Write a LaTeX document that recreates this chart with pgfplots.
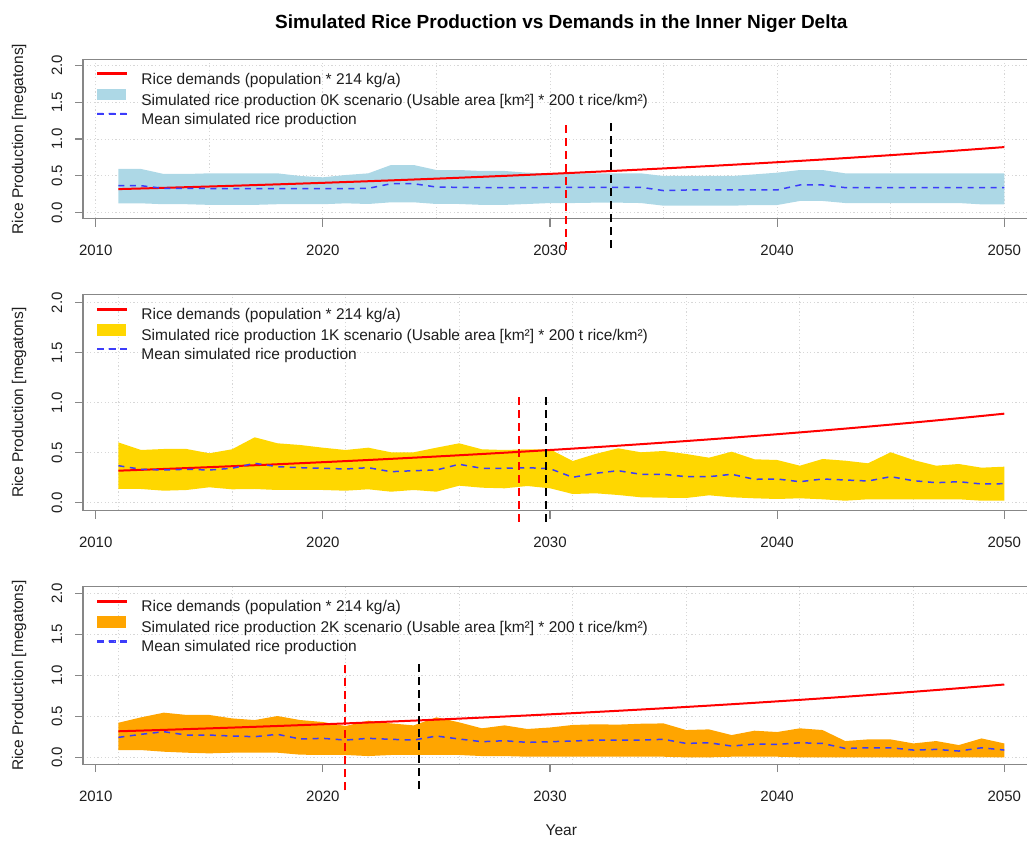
\documentclass[border=0pt]{standalone}
\usepackage{fontspec}
\setmainfont{Liberation Sans}
\usepackage{pgfplots}
\usepackage{pgfplotstable}
\pgfplotsset{compat=1.18}
\usepgfplotslibrary{fillbetween}

\definecolor{axisgray}{RGB}{135,135,135}
\definecolor{gridgray}{RGB}{215,215,215}
\definecolor{bandblue}{RGB}{173,216,230}
\definecolor{bandgold}{RGB}{255,215,0}
\definecolor{bandorange}{RGB}{255,165,0}
\definecolor{meanblue}{RGB}{60,60,250}
\definecolor{txt}{RGB}{30,30,30}

% rice demand (population * 214 kg/a), megatons
\pgfplotstableread{
year dem
2011 0.3200
2012 0.3285
2013 0.3372
2014 0.3462
2015 0.3554
2016 0.3649
2017 0.3746
2018 0.3845
2019 0.3947
2020 0.4052
2021 0.4160
2022 0.4270
2023 0.4384
2024 0.4501
2025 0.4620
2026 0.4743
2027 0.4869
2028 0.4998
2029 0.5131
2030 0.5268
2031 0.5408
2032 0.5552
2033 0.5699
2034 0.5851
2035 0.6006
2036 0.6166
2037 0.6330
2038 0.6498
2039 0.6671
2040 0.6848
2041 0.7030
2042 0.7217
2043 0.7409
2044 0.7606
2045 0.7808
2046 0.8015
2047 0.8228
2048 0.8447
2049 0.8672
2050 0.8902
}\demand

% 0K scenario: upper, lower and mean simulated production
\pgfplotstableread{
year hi lo mean
2011 0.593 0.127 0.366
2012 0.593 0.127 0.366
2013 0.525 0.115 0.330
2014 0.525 0.115 0.330
2015 0.534 0.106 0.328
2016 0.534 0.106 0.328
2017 0.534 0.106 0.328
2018 0.534 0.115 0.328
2019 0.498 0.115 0.326
2020 0.480 0.115 0.326
2021 0.511 0.127 0.326
2022 0.534 0.118 0.330
2023 0.647 0.141 0.393
2024 0.647 0.141 0.393
2025 0.579 0.118 0.348
2026 0.579 0.118 0.344
2027 0.566 0.106 0.339
2028 0.566 0.106 0.339
2029 0.543 0.118 0.339
2030 0.534 0.131 0.342
2031 0.534 0.131 0.345
2032 0.534 0.136 0.345
2033 0.534 0.136 0.345
2034 0.534 0.131 0.345
2035 0.498 0.095 0.300
2036 0.498 0.095 0.308
2037 0.498 0.095 0.308
2038 0.498 0.095 0.308
2039 0.520 0.104 0.308
2040 0.543 0.104 0.308
2041 0.579 0.159 0.376
2042 0.579 0.159 0.376
2043 0.534 0.131 0.340
2044 0.534 0.131 0.340
2045 0.534 0.131 0.340
2046 0.534 0.131 0.340
2047 0.534 0.131 0.340
2048 0.534 0.131 0.340
2049 0.534 0.113 0.340
2050 0.534 0.113 0.340
}\zeroK

% 1K scenario
\pgfplotstableread{
year hi lo mean
2011 0.603 0.137 0.370
2012 0.527 0.137 0.334
2013 0.537 0.120 0.327
2014 0.537 0.127 0.334
2015 0.494 0.154 0.327
2016 0.534 0.134 0.344
2017 0.654 0.137 0.394
2018 0.594 0.127 0.360
2019 0.577 0.127 0.350
2020 0.550 0.127 0.344
2021 0.527 0.120 0.337
2022 0.550 0.134 0.350
2023 0.504 0.110 0.310
2024 0.504 0.127 0.320
2025 0.550 0.110 0.327
2026 0.594 0.170 0.384
2027 0.534 0.150 0.344
2028 0.527 0.144 0.344
2029 0.534 0.167 0.350
2030 0.534 0.144 0.340
2031 0.417 0.087 0.254
2032 0.487 0.094 0.294
2033 0.544 0.077 0.320
2034 0.504 0.054 0.284
2035 0.517 0.050 0.284
2036 0.487 0.047 0.260
2037 0.450 0.074 0.260
2038 0.510 0.054 0.284
2039 0.434 0.044 0.234
2040 0.427 0.037 0.237
2041 0.370 0.044 0.210
2042 0.437 0.034 0.237
2043 0.420 0.020 0.227
2044 0.394 0.034 0.217
2045 0.504 0.034 0.260
2046 0.427 0.034 0.220
2047 0.370 0.034 0.200
2048 0.387 0.034 0.210
2049 0.350 0.020 0.187
2050 0.360 0.020 0.190
}\oneK

% 2K scenario
\pgfplotstableread{
year hi lo mean
2011 0.424 0.091 0.246
2012 0.490 0.091 0.283
2013 0.547 0.071 0.315
2014 0.519 0.059 0.274
2015 0.519 0.051 0.274
2016 0.477 0.059 0.262
2017 0.457 0.059 0.254
2018 0.506 0.059 0.283
2019 0.457 0.035 0.226
2020 0.433 0.031 0.234
2021 0.384 0.031 0.213
2022 0.449 0.018 0.234
2023 0.416 0.031 0.222
2024 0.392 0.031 0.213
2025 0.490 0.031 0.262
2026 0.429 0.031 0.226
2027 0.356 0.018 0.193
2028 0.392 0.018 0.205
2029 0.348 0.010 0.185
2030 0.366 0.010 0.193
2031 0.397 0.010 0.201
2032 0.405 0.010 0.213
2033 0.401 0.010 0.213
2034 0.412 0.010 0.213
2035 0.416 0.010 0.222
2036 0.335 0.002 0.172
2037 0.343 0.002 0.180
2038 0.274 0.010 0.140
2039 0.327 0.010 0.164
2040 0.311 0.010 0.160
2041 0.356 0.002 0.180
2042 0.335 0.002 0.172
2043 0.201 0.002 0.111
2044 0.221 0.002 0.119
2045 0.221 0.002 0.119
2046 0.172 0.002 0.091
2047 0.201 0.002 0.099
2048 0.152 0.002 0.079
2049 0.233 0.002 0.119
2050 0.172 0.002 0.091
}\twoK

\pgfplotsset{
  panel/.style={
    scale only axis, width=956.7pt,
    xmin=2009.44, xmax=2051.56, ymin=-0.08, ymax=2.08,
    clip=false,
    font=\fontsize{15.5}{18.6}\selectfont,
    xtick={2010,2020,2030,2040,2050},
    xticklabels={2010,2020,2030,2040,2050},
    ytick={0,0.5,1,1.5,2},
    yticklabels={0.0,0.5,1.0,1.5,2.0},
    xtick pos=left, ytick pos=left,
    tick align=outside, major tick length=8pt, minor tick length=0pt,
    tick style={color=axisgray, line width=1.1pt},
    axis line style={color=axisgray, line width=1.1pt},
    ymajorgrids, xminorgrids,
    grid style={color=gridgray, line width=0.9pt, dash pattern=on 1.2pt off 2.4pt},
    minor grid style={color=gridgray, line width=0.9pt, dash pattern=on 1.2pt off 2.4pt},
    xticklabel style={font=\fontsize{15}{18}\selectfont, inner sep=0pt, text=txt},
    xticklabel shift=18.6pt,
    yticklabel style={font=\fontsize{15}{18}\selectfont, rotate=90, anchor=south, inner sep=0pt, text=txt},
    yticklabel shift=12.6pt,
    ylabel={Rice Production [megatons]},
    ylabel style={at={(axis description cs:-0.0669,0.5)}, anchor=center, text=txt},
    legend cell align=left,
    legend style={at={(axis description cs:0,1)}, anchor=north west,
      xshift=14pt, yshift=-10.4pt, draw=none, fill=none,
      inner sep=0pt, outer sep=0pt, row sep=0pt, column sep=0pt,
      font=\fontsize{15.5}{18.6}\selectfont, text=txt,
      nodes={inner sep=0pt, text height=14.5pt, text depth=4.5pt}},
  },
  % legend keys drawn as filled shapes
  redlegend/.style={legend image code/.code={%
    \fill[red] (0pt,4.6pt) rectangle (29pt,6.6pt); \path (44pt,0pt);}},
  dashlegend/.style={legend image code/.code={%
    \fill[meanblue] (0pt,4.85pt) rectangle (6pt,6.35pt)
      (11.5pt,4.85pt) rectangle (17.5pt,6.35pt)
      (23pt,4.85pt) rectangle (29pt,6.35pt);
    \path (44pt,0pt);}},
  boxlegend/.style={legend image code/.code={%
    \fill[##1] (0pt,-0.2pt) rectangle (29pt,11.4pt); \path (44pt,0pt);}},
  demandline/.style={red, line width=2pt},
  meanline/.style={meanblue, line width=1.5pt, dash pattern=on 6pt off 5.5pt},
  redcut/.style={red, line width=2pt, dash pattern=on 8pt off 5pt},
  blackcut/.style={black, line width=2pt, dash pattern=on 8pt off 5pt},
}

\begin{document}
\begin{tikzpicture}

% ---- 0K scenario ----
\begin{axis}[panel, at={(83pt,621.4pt)}, anchor=south west, height=159.2pt,
  minor xtick={2010,2015,...,2050},
  title={Simulated Rice Production vs Demands in the Inner Niger Delta},
  title style={at={(axis description cs:0.5,1.1846)}, anchor=center,
    font=\bfseries\fontsize{19}{23}\selectfont, text=black}]
\addlegendimage{redlegend}
\addlegendentry{Rice demands (population * 214 kg/a)}
\addlegendimage{boxlegend, fill=bandblue, draw=none}
\addlegendentry{Simulated rice production 0K scenario (Usable area [km²] * 200 t rice/km²)}
\addlegendimage{dashlegend}
\addlegendentry{Mean simulated rice production}
\addplot[name path=hiA, draw=none, forget plot] table[x=year,y=hi]{\zeroK};
\addplot[name path=loA, draw=none, forget plot] table[x=year,y=lo]{\zeroK};
\addplot[fill=bandblue, draw=none, forget plot] fill between[of=hiA and loA];
\addplot[demandline, forget plot] table[x=year,y=dem]{\demand};
\addplot[meanline, forget plot] table[x=year,y=mean]{\zeroK};
\addplot[redcut, forget plot] coordinates {(2030.69,-0.50) (2030.69,1.25)};
\addplot[blackcut, forget plot] coordinates {(2032.67,-0.48) (2032.67,1.25)};
\end{axis}

% ---- 1K scenario ----
\begin{axis}[panel, at={(83pt,329.3pt)}, anchor=south west, height=216pt,
  minor xtick={2011,2016,...,2051}]
\addlegendimage{redlegend}
\addlegendentry{Rice demands (population * 214 kg/a)}
\addlegendimage{boxlegend, fill=bandgold, draw=none}
\addlegendentry{Simulated rice production 1K scenario (Usable area [km²] * 200 t rice/km²)}
\addlegendimage{dashlegend}
\addlegendentry{Mean simulated rice production}
\addplot[name path=hiB, draw=none, forget plot] table[x=year,y=hi]{\oneK};
\addplot[name path=loB, draw=none, forget plot] table[x=year,y=lo]{\oneK};
\addplot[fill=bandgold, draw=none, forget plot] fill between[of=hiB and loB];
\addplot[demandline, forget plot] table[x=year,y=dem]{\demand};
\addplot[meanline, forget plot] table[x=year,y=mean]{\oneK};
\addplot[redcut, forget plot] coordinates {(2028.63,-0.19) (2028.63,1.08)};
\addplot[blackcut, forget plot] coordinates {(2029.84,-0.19) (2029.84,1.08)};
\end{axis}

% ---- 2K scenario ----
\begin{axis}[panel, at={(83pt,75.9pt)}, anchor=south west, height=177.2pt,
  minor xtick={2011,2016,...,2051},
  xlabel={Year},
  xlabel style={at={(axis description cs:0.5,-0.372)}, anchor=center, text=txt}]
\addlegendimage{redlegend}
\addlegendentry{Rice demands (population * 214 kg/a)}
\addlegendimage{boxlegend, fill=bandorange, draw=none}
\addlegendentry{Simulated rice production 2K scenario (Usable area [km²] * 200 t rice/km²)}
\addlegendimage{dashlegend}
\addlegendentry{Mean simulated rice production}
\addplot[name path=hiC, draw=none, forget plot] table[x=year,y=hi]{\twoK};
\addplot[name path=loC, draw=none, forget plot] table[x=year,y=lo]{\twoK};
\addplot[fill=bandorange, draw=none, forget plot] fill between[of=hiC and loC];
\addplot[demandline, forget plot] table[x=year,y=dem]{\demand};
\addplot[meanline, forget plot] table[x=year,y=mean]{\twoK};
\addplot[redcut, forget plot] coordinates {(2020.99,-0.40) (2020.99,1.18)};
\addplot[blackcut, forget plot] coordinates {(2024.23,-0.38) (2024.23,1.18)};
\end{axis}

% page area: the drawing is cut at the right edge
\pgfresetboundingbox
\useasboundingbox (0,0) rectangle (1027pt,840pt);
\end{tikzpicture}
\end{document}
